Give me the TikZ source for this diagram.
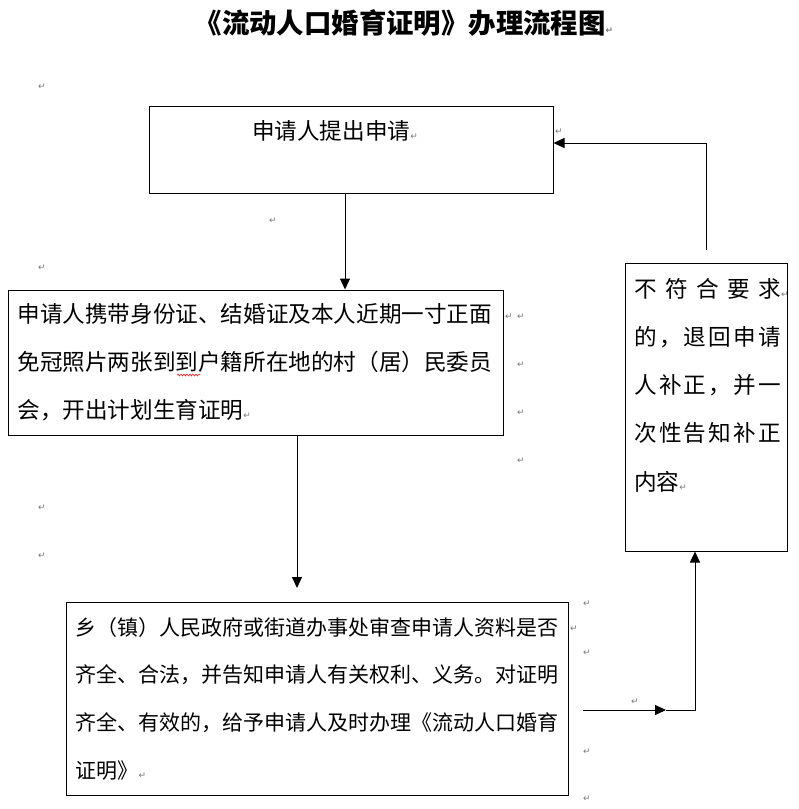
\documentclass[tikz,border=0pt]{standalone}
\usepackage{fontspec}
\newfontfamily\cjk{Noto Sans CJK SC}
\newfontfamily\markfont{DejaVu Sans}
\usetikzlibrary{arrows.meta,decorations.pathmorphing}
\definecolor{markgray}{RGB}{120,120,120}
\newcommand\pmark{{\markfont\fontsize{9}{9}\selectfont\color{markgray}↵}}
\tikzset{
  box/.style={draw,line width=1pt,inner ysep=0pt,align=left},
  arrow/.style={line width=1pt,-{Triangle[length=11pt,width=10pt]}},
  parmark/.style={inner sep=0pt}
}
\begin{document}
\begin{tikzpicture}[x=1pt,y=-1pt]
\useasboundingbox(0,0)rectangle(799,809);
% title
\node[inner sep=0pt,font={\cjk\bfseries\fontsize{27.4}{30}\selectfont}](title)at(404,23){《流动人口婚育证明》办理流程图\pmark};
% boxes
\node[box,minimum width=404,minimum height=87](apply)at(351,149.5){};
\node[inner sep=0pt,font={\cjk\fontsize{22.6}{48}\selectfont}](applytext)at(335,131){申请人提出申请\pmark};
\node[box,minimum width=495,minimum height=145,text width=476,inner xsep=9.5pt,
  font={\cjk\fontsize{22.6}{48}\selectfont}](carry)at(255.5,362.5)
  {申请人携带身份证、结婚证及本人近期一寸正面\\
   免冠照片两张到到户籍所在地的村（居）民委员\\
   会，开出计划生育证明\pmark};
\node[box,minimum width=502,minimum height=193,text width=484,inner xsep=9pt,
  font={\cjk\fontsize{21}{47.7}\selectfont}](check)at(317.5,698.5)
  {乡（镇）人民政府或街道办事处审查申请人资料是否\\
   齐全、合法，并告知申请人有关权利、义务。对证明\\
   齐全、有效的，给予申请人及时办理《流动人口婚育\\
   证明》\pmark};
\node[box,minimum width=162,minimum height=288](reject)at(706.5,407){};
\node[anchor=north west,inner sep=0pt,align=left,font={\cjk\fontsize{22.6}{48.2}\selectfont}](rejecttext)at(634,278)
  {\makebox[147pt][l]{不\hfill 符\hfill 合\hfill 要\hfill 求}\rlap{\pmark}\\
   \makebox[147pt][l]{的\hfill ，\hfill 退\hfill 回\hfill 申\hfill 请}\\
   \makebox[147pt][l]{人\hfill 补\hfill 正\hfill ，\hfill 并\hfill 一}\\
   \makebox[147pt][l]{次\hfill 性\hfill 告\hfill 知\hfill 补\hfill 正}\\
   内容\pmark};
\draw[red,line width=0.5pt,decorate,decoration={snake,amplitude=1pt,segment length=3pt}](177,375)--(200,375);
% connectors
\coordinate(checkin)at(297,588);
\coordinate(out)at(583,710);
\coordinate(mid)at(666,710);
\coordinate(back)at(706,250);
\draw[arrow]([xshift=-6pt]apply.south)--([xshift=-6pt]apply.south|-carry.north);
\draw[arrow](carry.south-|checkin)--(checkin);
\draw[arrow](out)--(mid);
\draw[arrow](mid)-|([xshift=-11.5pt]reject.south);
\draw[arrow](back)|-([yshift=6.5pt]apply.east);
% paragraph marks
\node[parmark](m1)at(42,87){\pmark};
\node[parmark](m2)at(559,132){\pmark};
\node[parmark](m3)at(273,221){\pmark};
\node[parmark](m4)at(42,268){\pmark};
\node[parmark](m5)at(509,317){\pmark};
\node[parmark](m6)at(521,317){\pmark};
\node[parmark](m7)at(521,365){\pmark};
\node[parmark](m8)at(521,413){\pmark};
\node[parmark](m9)at(521,461){\pmark};
\node[parmark](m10)at(42,508){\pmark};
\node[parmark](m11)at(42,556){\pmark};
\node[parmark](m12)at(587,604){\pmark};
\node[parmark](m13)at(574,629){\pmark};
\node[parmark](m14)at(587,653){\pmark};
\node[parmark](m15)at(635,702){\pmark};
\node[parmark](m16)at(587,752){\pmark};
\node[parmark](m17)at(587,799){\pmark};
\end{tikzpicture}
\end{document}
